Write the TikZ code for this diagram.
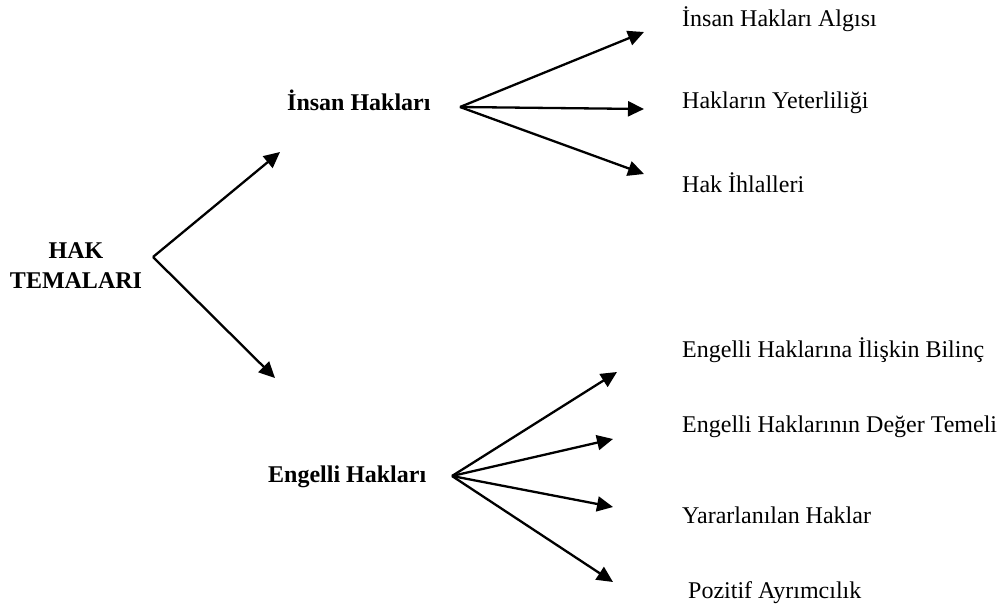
\documentclass[tikz,border=0pt]{standalone}
\usepackage{fontspec}
\setmainfont{Liberation Serif}
\usetikzlibrary{arrows.meta}
\begin{document}
\begin{tikzpicture}[x=1pt,y=-1pt,
  lbl/.style={inner sep=0pt,anchor=base west,font=\fontsize{24}{30}\selectfont},
  head/.style={inner sep=0pt,anchor=base west,font=\fontsize{24}{30}\selectfont\bfseries},
  arr/.style={line width=2.3pt,-{Triangle[length=16pt,width=15pt]}}]
\useasboundingbox (0,0) rectangle (1005,613);
% root
\node[inner sep=0pt,anchor=base,align=center,font=\fontsize{24}{30}\selectfont\bfseries] (root) at (76,288) {HAK\\TEMALARI};
% level 1
\node[head] (insan) at (287,110) {İnsan Hakları};
\node[head] (engel) at (268,482) {Engelli Hakları};
% level 2
\node[lbl] (a1) at (682,26) {İnsan Hakları Algısı};
\node[lbl] (a2) at (682,108) {Hakların Yeterliliği};
\node[lbl] (a3) at (682,192) {Hak İhlalleri};
\node[lbl] (b1) at (682,357) {Engelli Haklarına İlişkin Bilinç};
\node[lbl] (b2) at (682,432) {Engelli Haklarının Değer Temeli};
\node[lbl] (b3) at (682,523) {Yararlanılan Haklar};
\node[lbl] (b4) at (688,598) {Pozitif Ayrımcılık};
% connector points
\coordinate (r0) at (153,257);
\coordinate (r1) at (280,152);
\coordinate (r2) at (275,378);
\coordinate (i0) at (460,107);
\coordinate (i1) at (644,32);
\coordinate (i2) at (644,109);
\coordinate (i3) at (644,174);
\coordinate (e0) at (452,476);
\coordinate (e1) at (617,372);
\coordinate (e2) at (613,439);
\coordinate (e3) at (613,507);
\coordinate (e4) at (613,582);
\draw[arr] (r0) -- (r1);
\draw[arr] (r0) -- (r2);
\draw[arr] (i0) -- (i1);
\draw[arr] (i0) -- (i2);
\draw[arr] (i0) -- (i3);
\draw[arr] (e0) -- (e1);
\draw[arr] (e0) -- (e2);
\draw[arr] (e0) -- (e3);
\draw[arr] (e0) -- (e4);
\end{tikzpicture}
\end{document}
